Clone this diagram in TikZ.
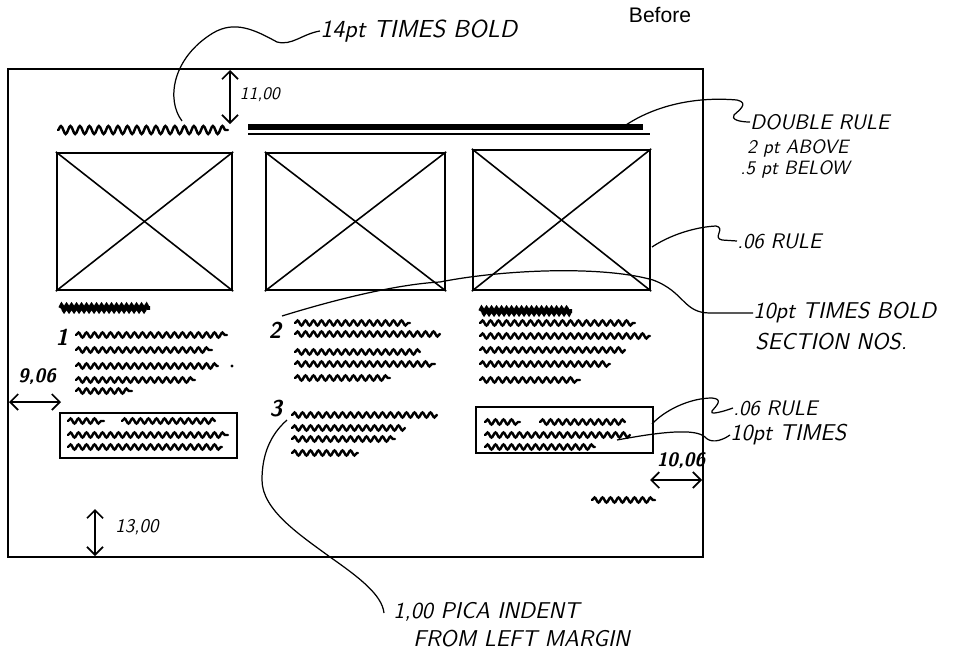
\documentclass[tikz,border=0pt]{standalone}
\usepackage{fontspec}
\newfontfamily\helv{Liberation Sans}
\usetikzlibrary{decorations.pathmorphing,arrows.meta,fit}
\begin{document}
\begin{tikzpicture}[x=0.02cm,y=-0.02cm,
  hand/.style={font=\sffamily\slshape\fontsize{12}{14}\selectfont, inner sep=0pt, anchor=west},
  dimlab/.style={font=\sffamily\slshape\fontsize{10}{12}\selectfont, inner sep=0pt},
  secno/.style={font=\sffamily\bfseries\slshape\fontsize{13}{15}\selectfont, inner sep=0pt},
  squig/.style={decorate, decoration={snake,segment length=1.6mm,amplitude=0.5mm}, line width=1.4pt, line cap=round},
  squigh/.style={decorate, decoration={snake,segment length=1.9mm,amplitude=0.8mm}, line width=1.4pt, line cap=round},
  squigb/.style={decorate, decoration={snake,segment length=1.0mm,amplitude=0.6mm}, line width=2pt},
  framebox/.style={draw, line width=1.3pt, inner sep=0pt},
  diag/.style={line width=0.9pt},
  lead/.style={line width=0.7pt},
  dimarrow/.style={line width=1pt, {Straight Barb[length=1.6mm,width=3.2mm]}-{Straight Barb[length=1.6mm,width=3.2mm]}},
]
\useasboundingbox (0,0) rectangle (956,656);

% page
\node[draw, line width=0.8pt, inner sep=0pt, fit={(8,69) (703,557)}] (page) {};

% title
\node[font=\helv\fontsize{12}{14}\selectfont] (before) at (660,15) {Before};

% headline and double rule
\draw[squigh] (58,130) -- (228,130);
\draw[line width=3pt] (248,127) -- (643,127);
\draw[line width=0.8pt] (248,134) -- (650,134);

% picture boxes
\node[framebox, fit={(57,153) (232,290)}] (b1) {};
\node[framebox, fit={(266,153) (445,290)}] (b2) {};
\node[framebox, fit={(473,150) (650,290)}] (b3) {};
\foreach \b in {b1,b2,b3}{
  \draw[diag] (\b.north west) -- (\b.south east);
  \draw[diag] (\b.north east) -- (\b.south west);
}

% column 1
\draw[squigb] (60,308) -- (150,308);
\node[secno] (n1) at (62,337) {1};
\draw[squig] (76,335) -- (227,335);
\draw[squig] (76,350) -- (212,350);
\draw[squig] (76,366) -- (218,366);
\fill (232,366) circle (1.6);
\draw[squig] (76,380) -- (195,380);
\draw[squig] (76,391) -- (132,391);
\node[framebox, fit={(60,413) (237,458)}] (c1) {};
\draw[squig] (68,421) -- (104,421);
\draw[squig] (122,421) -- (215,421);
\draw[squig] (68,435) -- (228,435);
\draw[squig] (68,447) -- (222,447);

% column 2
\node[secno] (n2) at (275,330) {2};
\draw[squig] (295,323) -- (410,323);
\draw[squig] (295,334) -- (440,334);
\draw[squig] (295,352) -- (420,352);
\draw[squig] (295,364) -- (435,364);
\draw[squig] (295,378) -- (390,378);
\node[secno] (n3) at (276,409) {3};
\draw[squig] (292,415) -- (437,415);
\draw[squig] (292,428) -- (405,428);
\draw[squig] (292,439) -- (395,439);
\draw[squig] (292,453) -- (358,453);

% column 3
\draw[squigb] (480,311) -- (572,311);
\draw[squig] (480,323) -- (635,323);
\draw[squig] (480,336) -- (650,336);
\draw[squig] (480,350) -- (625,350);
\draw[squig] (480,364) -- (610,364);
\draw[squig] (480,380) -- (580,380);
\node[framebox, fit={(476,407) (653,453)}] (c3) {};
\draw[squig] (485,422) -- (520,422);
\draw[squig] (540,422) -- (625,422);
\draw[squig] (485,435) -- (630,435);
\draw[squig] (485,447) -- (595,447);
\draw[squig] (592,500) -- (655,500);

% dimensions
\coordinate (d11a) at (230,70);
\coordinate (d11b) at (230,124);
\draw[dimarrow] (d11a) -- (d11b);
\node[dimlab] (l11) at (260,95) {11,00};

\coordinate (d9a) at (9,402);
\coordinate (d9b) at (61,402);
\draw[dimarrow] (d9a) -- (d9b);
\node[dimlab, font=\sffamily\bfseries\slshape\fontsize{11}{13}\selectfont] (l9) at (37,377) {9,06};

\coordinate (d10a) at (650,480);
\coordinate (d10b) at (702,480);
\draw[dimarrow] (d10a) -- (d10b);
\node[dimlab, font=\sffamily\bfseries\slshape\fontsize{11}{13}\selectfont] (l10) at (681,461) {10,06};

\coordinate (d13a) at (95,509);
\coordinate (d13b) at (95,556);
\draw[dimarrow] (d13a) -- (d13b);
\node[dimlab, font=\sffamily\slshape\fontsize{11}{13}\selectfont] (l13) at (137,527) {13,00};

% annotation labels
\node[hand, font=\sffamily\slshape\fontsize{14}{16}\selectfont] (l14) at (320,31) {14pt TIMES BOLD};
\node[hand] (dr1) at (750,122) {DOUBLE RULE};
\node[hand, font=\sffamily\slshape\fontsize{11}{13}\selectfont] (dr2) at (747,148) {2 pt ABOVE};
\node[hand, font=\sffamily\slshape\fontsize{11}{13}\selectfont] (dr3) at (740,169) {.5 pt BELOW};
\node[hand] (r1) at (737,241) {.06 RULE};
\node[hand, font=\sffamily\slshape\fontsize{13}{15}\selectfont] (sn1) at (753,313) {10pt TIMES BOLD};
\node[hand, font=\sffamily\slshape\fontsize{13}{15}\selectfont] (sn2) at (755,342) {SECTION NOS.};
\node[hand] (r2) at (733,408) {.06 RULE};
\node[hand, font=\sffamily\slshape\fontsize{13}{15}\selectfont] (t10) at (730,435) {10pt TIMES};
\node[hand, font=\sffamily\slshape\fontsize{13}{15}\selectfont] (ind1) at (393,612) {1,00 PICA INDENT};
\node[hand, font=\sffamily\slshape\fontsize{13}{15}\selectfont] (ind2) at (413,639) {FROM LEFT MARGIN};

% leaders
\coordinate (s14) at (182,121);
\draw[lead] (s14) .. controls (166,100) and (172,58) .. (213,33)
  .. controls (235,20) and (255,30) .. (277,42)
  .. controls (292,46) and (302,34) .. (l14.west);

\coordinate (sdr) at (623,127);
\draw[lead] (sdr) .. controls (650,108) and (690,96) .. (737,100)
  .. controls (750,103) and (738,111) .. (734,115)
  .. controls (731,119) and (738,122) .. (dr1.west);

\coordinate (sr1) at (652,247);
\draw[lead] (sr1) .. controls (670,235) and (695,227) .. (716,226)
  .. controls (726,228) and (712,238) .. (722,240) -- (r1.west);

\coordinate (ssn) at (282,316);
\draw[lead] (ssn) .. controls (340,298) and (400,284) .. (440,282)
  .. controls (500,270) and (600,265) .. (653,280)
  .. controls (685,292) and (683,313) .. (710,313) -- (sn1.west);

\coordinate (sr2) at (652,424);
\draw[lead] (sr2) .. controls (665,410) and (690,398) .. (712,398)
  .. controls (724,399) and (716,406) .. (712,411)
  .. controls (710,414) and (716,414) .. (r2.west);

\coordinate (st10) at (617,440);
\draw[lead] (st10) .. controls (660,432) and (695,428) .. (705,437)
  .. controls (710,443) and (720,442) .. (t10.west);

\coordinate (sind) at (287,420);
\coordinate (eind) at (384,613);
\draw[lead] (sind) .. controls (270,435) and (262,455) .. (262,480)
  .. controls (262,510) and (300,535) .. (330,557)
  .. controls (360,578) and (382,595) .. (eind);
\end{tikzpicture}
\end{document}
